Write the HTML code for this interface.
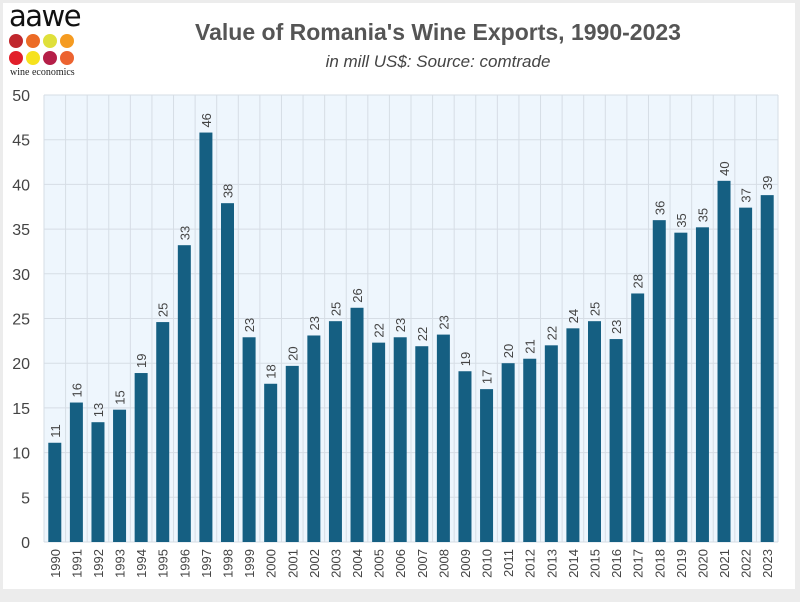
<!DOCTYPE html>
<html><head><meta charset="utf-8"><style>
body{margin:0;background:#ececec;width:800px;height:597px;overflow:hidden;font-family:"Liberation Sans",sans-serif}
</style></head><body>
<svg width="800" height="597" xmlns="http://www.w3.org/2000/svg" font-family="Liberation Sans, sans-serif">
<rect x="3" y="3" width="792" height="586" fill="#fff"/>
<text x="9" y="26" font-size="29" fill="#111" font-family="DejaVu Sans, sans-serif" letter-spacing="-1.5">aawe</text>
<g>
<circle cx="16" cy="41" r="7" fill="#c0272d"/><circle cx="33" cy="41" r="7" fill="#ec6b25"/><circle cx="50" cy="41" r="7" fill="#dfe03b"/><circle cx="67" cy="41" r="7" fill="#f59b21"/>
<circle cx="16" cy="58" r="7" fill="#e21f2a"/><circle cx="33" cy="58" r="7" fill="#f6e21e"/><circle cx="50" cy="58" r="7" fill="#b51f48"/><circle cx="67" cy="58" r="7" fill="#ec6330"/>
</g>
<text x="10" y="75" font-size="10" fill="#222" font-family="Liberation Serif, serif">wine economics</text>
<text x="438" y="40" font-size="23" font-weight="bold" fill="#555" text-anchor="middle">Value of Romania's Wine Exports, 1990-2023</text>
<text x="438" y="67" font-size="17" font-style="italic" fill="#444" text-anchor="middle">in mill US$: Source: comtrade</text>
<rect x="44" y="95" width="734" height="447" fill="#eef6fd"/>
<g id="g"></g>
</svg>
<script>
const v=[11.1,15.6,13.4,14.8,18.9,24.6,33.2,45.8,37.9,22.9,17.7,19.7,23.1,24.7,26.2,22.3,22.9,21.9,23.2,19.1,17.1,20.0,20.5,22.0,23.9,24.7,22.7,27.8,36.0,34.6,35.2,40.4,37.4,38.8];
const L=44,R=778,T=95,B=542,cw=(R-L)/34,s=(B-T)/50;let h='';
for(let i=0;i<=10;i++){const y=B-i*5*s;h+=`<line x1="${L}" x2="${R}" y1="${y}" y2="${y}" stroke="#d6dde5"/><text x="30" y="${y+6}" font-size="16" fill="#444" text-anchor="end">${i*5}</text>`;}
for(let i=0;i<=34;i++){const x=L+i*cw;h+=`<line x1="${x}" x2="${x}" y1="${T}" y2="${B}" stroke="#d6dde5"/>`;}
v.forEach((d,i)=>{const cx=L+(i+.5)*cw,bw=13,y=B-d*s;
h+=`<rect x="${cx-bw/2}" y="${y}" width="${bw}" height="${B-y}" fill="#155f82"/>`;
h+=`<text transform="translate(${cx+5},${y-5}) rotate(-90)" font-size="13" fill="#444">${Math.round(d)}</text>`;
h+=`<text transform="translate(${cx+5},${549}) rotate(-90)" font-size="13" fill="#444" text-anchor="end">${1990+i}</text>`;});
document.getElementById('g').innerHTML=h;
</script>
</body></html>
